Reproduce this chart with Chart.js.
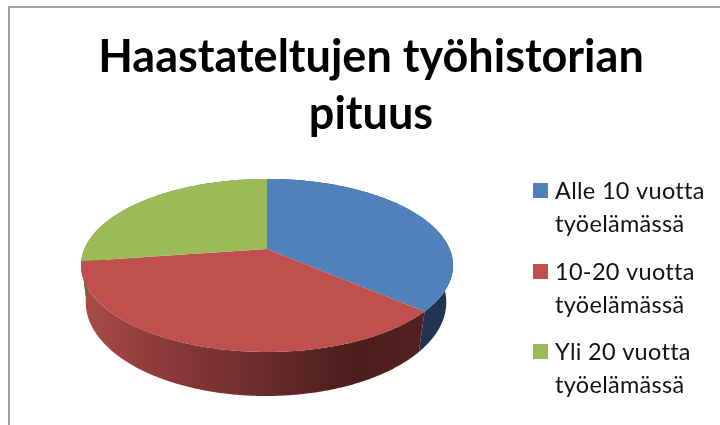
<!DOCTYPE html>
<html>
<head>
<meta charset="utf-8">
<script src="https://cdn.jsdelivr.net/npm/chart.js@4"></script>
<style>
  html, body { margin: 0; padding: 0; background: #fff; }
  #wrap { position: relative; width: 720px; height: 425px; overflow: hidden; }
  #frame { position: absolute; left: 8px; top: 6px; width: 720px; height: 430px; border: 2px solid #a0a0a0; box-sizing: border-box; }
  canvas { position: absolute; left: 0; top: 0; }
</style>
</head>
<body>
<div id="wrap">
  <canvas id="chart" width="720" height="425"></canvas>
  <div id="frame"></div>
</div>
<script>
const categories = [
  ["Alle 10 vuotta", "työelämässä"],
  ["10-20 vuotta", "työelämässä"],
  ["Yli 20 vuotta", "työelämässä"],
];
const values = [4, 4, 3];
const titleLines = ["Haastateltujen työhistorian", "pituus"];
const colors = ["#4F81BD", "#C0504D", "#9BBB59"];

const FONT = "Lato, 'Open Sans', sans-serif";

// perspective of the pie: top disc and bottom disc of the cylinder
const topDisc = { cx: 267, cy: 249, rx: 182.6, ry: 83.4, k: 0.19 };
const bottomDisc = { cx: 266, cy: 284.4, rx: 177, ry: 90.4, k: 0.19 };

function project(disc, angle) {
  let u = Math.cos(angle);
  let v = Math.sin(angle);
  let w = 1 - disc.k * v;
  return [disc.cx + (disc.rx * u) / w, disc.cy + (disc.ry * v) / w];
}

function edgePoints(disc, start, end) {
  let points = [];
  let steps = Math.max(2, Math.ceil((end - start) / 0.01));
  for (let i = 0; i <= steps; i++) {
    points.push(project(disc, start + ((end - start) * i) / steps));
  }
  return points;
}

function fillPath(ctx, points, style) {
  ctx.beginPath();
  points.forEach(function (p, i) {
    if (i === 0) ctx.moveTo(p[0], p[1]);
    else ctx.lineTo(p[0], p[1]);
  });
  ctx.closePath();
  ctx.fillStyle = style;
  ctx.fill();
}

function wallStyle(ctx, index) {
  if (index === 0) return "#1F3552";
  if (index === 2) return "#5F7030";
  let g = ctx.createLinearGradient(84, 0, 420, 0);
  g.addColorStop(0, "#A84C49");
  g.addColorStop(0.2, "#8F3C3A");
  g.addColorStop(0.55, "#682B2A");
  g.addColorStop(0.8, "#4C1D1C");
  g.addColorStop(1, "#522120");
  return g;
}

// draws the arcs of the pie controller as a tilted 3d pie
const pie3d = {
  id: "pie3d",
  beforeDatasetDraw(chart, args) {
    let ctx = chart.ctx;
    let arcs = args.meta.data;
    ctx.save();
    arcs.forEach(function (arc, i) {
      let wall = edgePoints(topDisc, arc.startAngle, arc.endAngle).concat(
        edgePoints(bottomDisc, arc.startAngle, arc.endAngle).reverse()
      );
      fillPath(ctx, wall, wallStyle(ctx, i));
    });
    arcs.forEach(function (arc, i) {
      let face = [[topDisc.cx, topDisc.cy]].concat(edgePoints(topDisc, arc.startAngle, arc.endAngle));
      fillPath(ctx, face, colors[i]);
    });
    ctx.restore();
    return false;
  },
};

// legend with the box next to the first line of each label
const legendBlock = {
  id: "legendBlock",
  afterDraw(chart) {
    let ctx = chart.ctx;
    let tops = [183, 264, 344];
    ctx.save();
    ctx.font = "23.5px " + FONT;
    ctx.letterSpacing = "0.3px";
    ctx.textBaseline = "middle";
    chart.data.labels.forEach(function (lines, i) {
      ctx.fillStyle = colors[i];
      ctx.fillRect(533, tops[i], 15, 15);
      ctx.fillStyle = "#111";
      lines.forEach(function (line, n) {
        ctx.fillText(line, 555, tops[i] + 8 + n * 33);
      });
    });
    ctx.restore();
  },
};

new Chart(document.getElementById("chart"), {
  type: "pie",
  data: {
    labels: categories,
    datasets: [{ data: values, backgroundColor: colors, borderWidth: 0 }],
  },
  options: {
    responsive: false,
    animation: false,
    events: [],
    layout: { padding: { left: 22 } },
    plugins: {
      legend: { display: false },
      tooltip: { enabled: false },
      title: {
        display: true,
        text: titleLines,
        color: "#000",
        padding: { top: 29, bottom: 10 },
        font: { family: FONT, size: 45, weight: "bold", lineHeight: 1.27 },
      },
    },
  },
  plugins: [pie3d, legendBlock],
});
</script>
</body>
</html>
